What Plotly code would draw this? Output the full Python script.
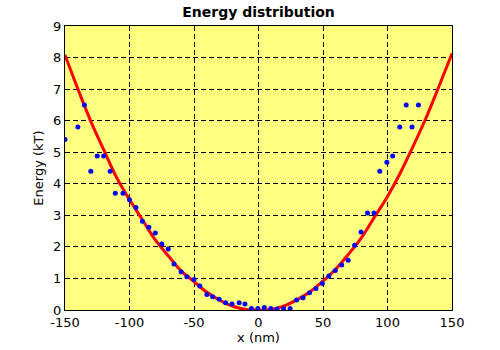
import plotly.graph_objects as go

# Measured points (blue dots)
pts_x = [-150, -140, -135, -130, -125, -120, -115, -111, -105, -100, -95, -90, -85, -80, -75,
         -70, -65.5, -60, -55.5, -50, -45.5, -40, -35.5, -30.5, -25.5, -20.5, -15, -10.5, -5.5,
         -0.5, 4.5, 9.5, 14.5, 19.5, 24.5, 29.5, 34.5, 39.5, 44.5, 49.5, 54.5, 59.5, 64.5,
         69.5, 74.5, 79.5, 84.5, 89.5, 94, 99.5, 104, 109.5, 114.5, 119, 124]
pts_y = [5.4, 5.8, 6.5, 4.4, 4.88, 4.88, 4.4, 3.7, 3.7, 3.49, 3.25, 2.81, 2.62, 2.44, 2.09,
         1.93, 1.46, 1.21, 1.05, 0.97, 0.76, 0.49, 0.42, 0.34, 0.23, 0.19, 0.23, 0.19, 0.05,
         0.05, 0.08, 0.05, 0.03, 0.04, 0.05, 0.32, 0.39, 0.55, 0.68, 0.84, 1.08, 1.25, 1.43,
         1.58, 2.05, 2.47, 3.07, 3.07, 4.4, 4.68, 4.88, 5.8, 6.5, 5.8, 6.5]

# Fitted curve (red line)
fit_x = [-150, -140, -130, -120, -110, -100, -90, -80, -70, -60, -50, -40, -30, -20, -10,
         0, 10, 20, 30, 40, 50, 60, 70, 80, 90, 100, 110, 120, 130, 140, 150]
fit_y = [8.08, 7.0, 5.98, 5.08, 4.2, 3.5, 2.86, 2.22, 1.72, 1.24, 0.9, 0.56, 0.31, 0.12, 0.02,
         0.0, 0.02, 0.13, 0.33, 0.58, 0.92, 1.3, 1.78, 2.3, 2.95, 3.6, 4.35, 5.2, 6.1, 7.1, 8.13]

x_ticks = [-150, -100, -50, 0, 50, 100, 150]
y_ticks = [0, 1, 2, 3, 4, 5, 6, 7, 8, 9]

fig = go.Figure()
fig.add_trace(go.Scatter(x=fit_x, y=fit_y, mode="lines", line=dict(color="#ff0000", width=3),
                         line_shape="spline", hoverinfo="skip"))
fig.add_trace(go.Scatter(x=pts_x, y=pts_y, mode="markers",
                         marker=dict(color="#0000ff", size=5, symbol="circle")))

font = "DejaVu Sans, Verdana, sans-serif"
fig.update_layout(
    width=500, height=350,
    margin=dict(l=65, r=48, t=26, b=40),
    paper_bgcolor="white", plot_bgcolor="#ffff80",
    showlegend=False,
    font=dict(family=font, size=13, color="black"),
    title=dict(text="<b>Energy distribution</b>", x=0.517, xanchor="center",
               y=1 - 12 / 350, yanchor="middle", yref="container",
               font=dict(family=font, size=14, color="black")),
)
grid = dict(showgrid=True, gridcolor="black", griddash="5px,3px", gridwidth=1,
            showline=True, linecolor="black", linewidth=1, mirror=True,
            zeroline=False, ticks="", automargin=False,
            tickfont=dict(family=font, size=13, color="black"))
fig.update_xaxes(range=[-150, 150], tickvals=x_ticks, ticktext=[str(v) for v in x_ticks],
                 title=dict(text="x (nm)", standoff=2, font=dict(family=font, size=13)), **grid)
fig.update_yaxes(range=[0, 9], tickvals=y_ticks, ticktext=[str(v) for v in y_ticks],
                 title=dict(text="Energy (kT)", standoff=6, font=dict(family=font, size=13)), **grid)

fig.write_html("out.html")
